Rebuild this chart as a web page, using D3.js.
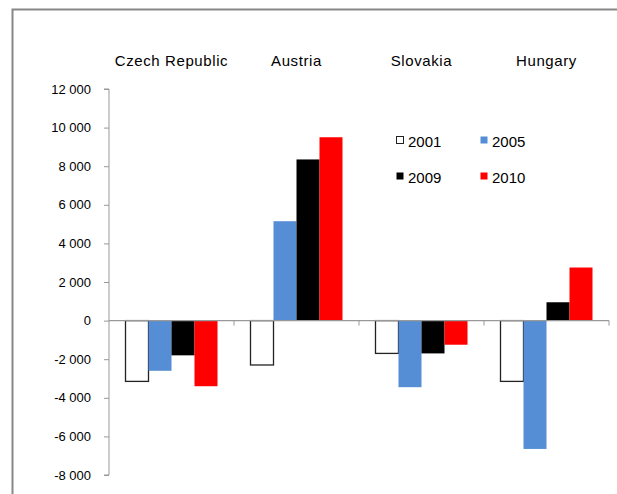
<!DOCTYPE html>
<html><head><meta charset="utf-8">
<script src="https://cdn.jsdelivr.net/npm/d3@7"></script>
<style>body{margin:0;background:#fff;overflow:hidden}svg{display:block}text{font-family:"Liberation Sans",Arial,sans-serif;fill:#000}</style>
</head><body>
<script>
const categories = ["Czech Republic","Austria","Slovakia","Hungary"];
const years = ["2001","2005","2009","2010"];
const v2001 = [-3150,-2300,-1700,-3150];
const v2005 = [-2600,5150,-3450,-6650];
const v2009 = [-1800,8350,-1700,950];
const v2010 = [-3400,9500,-1250,2750];
const yTicks = [12000,10000,8000,6000,4000,2000,0,-2000,-4000,-6000,-8000];
const colors = ["#ffffff","#558ed5","#000000","#ff0000"];
const series = [v2001,v2005,v2009,v2010];

const W=617,H=494;
const svg=d3.select("body").append("svg").attr("width",W).attr("height",H);
svg.append("rect").attr("x",12.5).attr("y",9.5).attr("width",W+100).attr("height",H+100).attr("fill","#fff").attr("stroke","#888").attr("stroke-width",2);

const x0=109,x1=609;
const y=d3.scaleLinear().domain([-8000,12000]).range([475,89]);
const x=d3.scaleBand().domain(categories).range([x0,x1]).paddingInner(0.264).paddingOuter(0.132);
const xi=d3.scaleBand().domain(years).range([0,x.bandwidth()]);

// y axis
const ya=svg.append("g").attr("transform",`translate(${x0},0)`)
 .call(d3.axisLeft(y).tickValues(yTicks).tickSize(5).tickPadding(13).tickFormat(d=>d3.format(",")(d).replace(/,/g," ").replace("−","-")));
ya.select(".domain").attr("stroke","#999").attr("d",`M-5,${y(12000)}H0V${y(-8000)}H-5`);
ya.selectAll(".tick line").attr("stroke","#999");
ya.selectAll(".tick text").style("font-size","13px").attr("fill","#000").style("font-family","'Liberation Sans',Arial,sans-serif");

// bars
const g=svg.append("g");
categories.forEach((c,ci)=>{
  series.forEach((s,si)=>{
    const v=s[ci];
    g.append("rect")
     .attr("x",x(c)+xi(years[si]))
     .attr("y",y(Math.max(0,v)))
     .attr("width",xi.bandwidth())
     .attr("height",Math.abs(y(v)-y(0)))
     .attr("fill",colors[si])
     .attr("stroke",si===0?"#222":"none")
     .attr("stroke-width",1.3);
  });
});

// zero axis with category ticks
const xa=svg.append("g").attr("transform",`translate(0,${y(0)})`);
xa.append("line").attr("x1",x0).attr("x2",x1).attr("stroke","#999").attr("stroke-width",1.2);
const bounds=categories.map(c=>x(c)-x.step()*x.paddingInner()/2).concat([x1]);
bounds.forEach((b,i)=>{ if(i===0) return; xa.append("line").attr("x1",b).attr("x2",b).attr("y1",0).attr("y2",5).attr("stroke","#999");});

// category labels
svg.append("g").selectAll("text").data(categories).join("text")
 .attr("x",d=>x(d)+x.bandwidth()/2).attr("y",66).attr("text-anchor","middle")
 .style("font-size","15px").style("letter-spacing","0.6px").text(d=>d);

// legend
const lg=svg.append("g");
const lpos=[[396,141],[480,141],[396,177],[480,177]];
years.forEach((yr,i)=>{
  const [lx,ly]=lpos[i];
  lg.append("rect").attr("x",lx+0.5).attr("y",ly-4.5).attr("width",7).attr("height",7)
   .attr("fill",colors[i]).attr("stroke",i===0?"#222":"none");
  lg.append("text").attr("x",lx+12).attr("y",ly+5.5).style("font-size","15px").text(yr);
});
</script>
</body></html>
